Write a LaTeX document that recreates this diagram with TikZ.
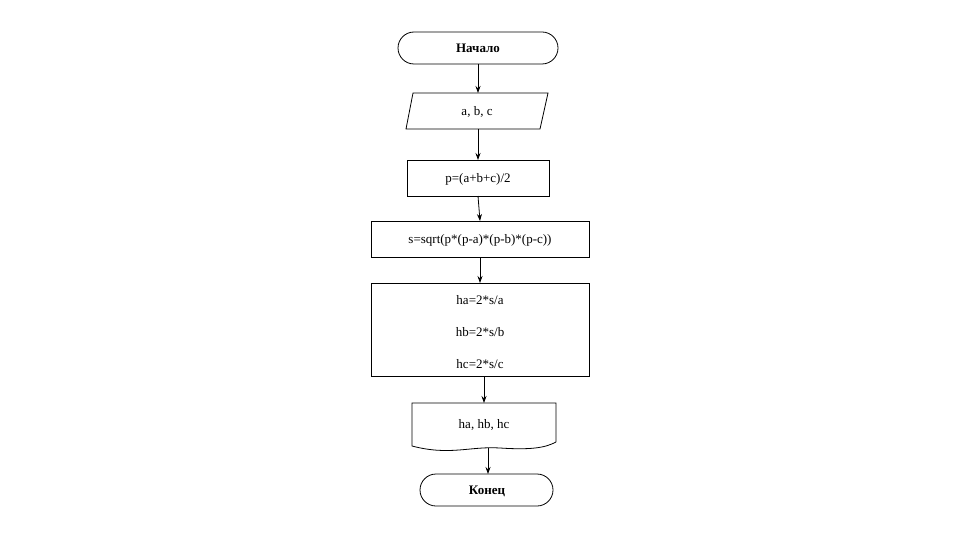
\documentclass[tikz,border=0pt]{standalone}
\usepackage{fontspec}
\setmainfont{Liberation Serif}
\usetikzlibrary{shapes.geometric,arrows.meta}
\begin{document}
\begin{tikzpicture}[x=1pt,y=-1pt,
  every node/.style={font=\fontsize{13}{15}\selectfont, inner sep=0},
  box/.style={draw, line width=0.8pt},
  arr/.style={draw, line width=0.8pt, -{Stealth[length=7pt,width=5pt]}},
  term/.style={draw, line width=0.8pt, rounded corners=16pt}]
\useasboundingbox (0,0) rectangle (960,540);
\draw[term] (398,32) rectangle (558,64);
\node[font=\fontsize{13}{15}\selectfont\bfseries] (start) at (478,48) {Начало};
\coordinate (startb) at (478,64);
\draw[box] (413,93) -- (548,93) -- (540,129) -- (406,129) -- cycle;
\node (in) at (477,112) {a, b, c};
\coordinate (int) at (478,93);\coordinate (inb) at (478,129);
\draw[box] (407,160) rectangle (549,196);
\node (p) at (478,179) {p=(a+b+c)/2};
\coordinate (pt) at (478,160);\coordinate (pb) at (478,196);
\draw[box] (371,221) rectangle (589,257);
\node (s) at (480,240) {s=sqrt(p*(p-a)*(p-b)*(p-c))};
\coordinate (st) at (480,221);\coordinate (sb) at (480,257);
\draw[box] (371,283) rectangle (589,376);
\node (ha) at (480,300) {ha=2*s/a};
\node (hb) at (480,332) {hb=2*s/b};
\node (hc) at (480,364) {hc=2*s/c};
\coordinate (ht) at (480,283);\coordinate (hbot) at (484,376);
\draw[box] (556,442) -- (556,403) -- (412,403) -- (412,446)
  .. controls (450,456) and (470,446) .. (500,448) .. controls (530,450) and (545,448) .. (556,442);
\node (out) at (484,425) {ha, hb, hc};
\coordinate (outt) at (484,403);\coordinate (outb) at (488,448);
\draw[term] (420,474) rectangle (553,506);
\node[font=\fontsize{13}{15}\selectfont\bfseries] (end) at (487,491) {Конец};
\coordinate (endt) at (488,474);
\draw[arr] (startb) -- (int);
\draw[arr] (inb) -- (pt);
\draw[arr] (pb) -- (st);
\draw[arr] (sb) -- (ht);
\draw[arr] (hbot) -- (outt);
\draw[arr] (outb) -- (endt);
\end{tikzpicture}
\end{document}
